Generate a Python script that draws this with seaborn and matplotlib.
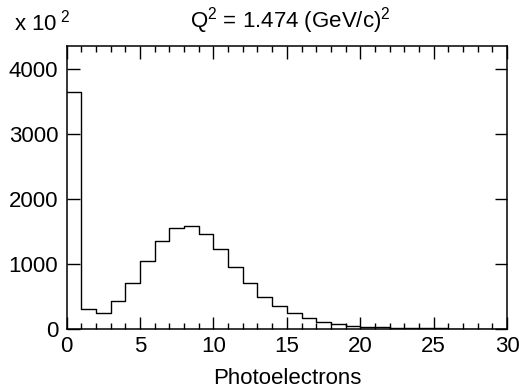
import numpy as np
import matplotlib
matplotlib.use("Agg")
import matplotlib.pyplot as plt
import seaborn as sns
from matplotlib.ticker import MultipleLocator

# Histogram data (counts in units of 10^2), bins of width 1 from 0 to 30
bin_edges = list(range(0, 31))
counts = [3655, 309, 253, 428, 706, 1052, 1356, 1552, 1588, 1464,
          1232, 959, 706, 500, 351, 241, 164, 113, 77, 51,
          36, 26, 18, 13, 10, 8, 6, 5, 4, 3]
centers = [e + 0.5 for e in bin_edges[:-1]]

title = "Q$^2$ = 1.474 (GeV/c)$^2$"
xlabel = "Photoelectrons"
scale_label = "x 10$^{\\ 2}$"

sns.set_theme(style="ticks")
plt.rcParams['font.family'] = ['Liberation Sans', 'DejaVu Sans']
plt.rcParams['mathtext.fontset'] = 'custom'
plt.rcParams['mathtext.rm'] = 'Liberation Sans'
plt.rcParams['mathtext.it'] = 'Liberation Sans'
plt.rcParams['text.color'] = 'black'
plt.rcParams['axes.labelcolor'] = 'black'
plt.rcParams['xtick.color'] = 'black'
plt.rcParams['ytick.color'] = 'black'

FS = 16

fig = plt.figure(figsize=(5.19, 3.89), dpi=100)
ax = fig.add_axes([0.1285, 0.1542, 0.9769 - 0.1285, 0.8825 - 0.1542])

sns.histplot(x=centers, weights=counts, bins=bin_edges, element="step",
             fill=False, color="black", linewidth=1.0, ax=ax)

ax.set_xlim(0, 30)
ax.set_ylim(0, 4360)
ax.xaxis.set_major_locator(MultipleLocator(5))
ax.xaxis.set_minor_locator(MultipleLocator(1))
ax.yaxis.set_major_locator(MultipleLocator(1000))
ax.tick_params(axis="both", which="major", direction="in", length=9, width=1.0,
               top=True, right=True, labelsize=FS, colors="black")
ax.tick_params(axis="y", which="major", pad=6)
ax.tick_params(axis="x", which="major", pad=5)
ax.tick_params(axis="x", which="minor", direction="in", length=4.5, width=1.0,
               top=True, bottom=True)
ax.tick_params(axis="y", which="minor", left=False, right=False)
for s in ax.spines.values():
    s.set_linewidth(1.1)
    s.set_color("black")

ax.set_ylabel("")
ax.set_xlabel("")
fig.text(287 / 519, 1 - 378 / 389, xlabel, fontsize=FS, ha="center", va="center")
fig.text(290 / 519, 1 - 21 / 389, title, fontsize=FS, ha="center", va="center")
fig.text(14 / 519, 1 - 23 / 389, scale_label, fontsize=FS, ha="left", va="center")

fig.savefig("out.png", dpi=100)
